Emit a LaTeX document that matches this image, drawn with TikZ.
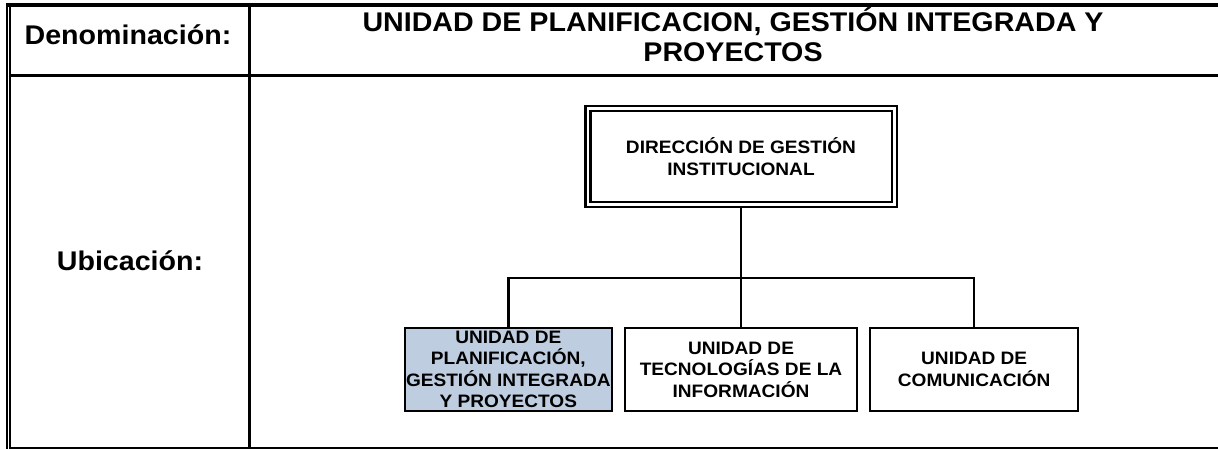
\documentclass[tikz,border=0pt]{standalone}
\usepackage{fontspec}
\setmainfont{Liberation Sans}[FakeStretch=1.06]
\usepackage{tikz}
\usetikzlibrary{calc}
\usetikzlibrary{positioning}
\definecolor{PlanBlue}{RGB}{191,205,224}
\newcommand{\headFont}{\fontsize{27}{30}\selectfont\bfseries}
\newcommand{\orgFont}{\fontsize{18}{21.5}\selectfont\bfseries}
\tikzset{
	rule/.style={line width=2.5pt},
	link/.style={line width=2.5pt},
	unitBox/.style={draw, line width=2.2pt, inner sep=0pt, outer sep=0pt,
		minimum height=83.2pt, align=center, font=\orgFont},
	dirBox/.style={draw, double, double distance=2.8pt, line width=2.2pt,
		inner sep=0pt, outer sep=3.6pt, minimum width=306.2pt,
		minimum height=95.4pt, align=center, font=\orgFont},
}

\begin{document}
\begin{tikzpicture}[x=1pt, y=-1pt]
	\useasboundingbox (0,0) rectangle (1218,449);
	
		% table frame
		\draw [line width=4pt] (6,5.3) -- (1218,5.3);
		\draw [line width=2pt] (7,3.3) -- (7,449);
		\draw [line width=2pt] (10.3,3.3) -- (10.3,449);
		\draw [rule] (10,75.3) -- (1218,75.3);
		\draw [rule] (249.5,5) -- (249.5,448);
		\draw [line width=2pt] (10,448.3) -- (1218,448.3);
		
		\node [anchor=base, font=\headFont] (den) at (128,45) {Denominación:};
		\node [anchor=base, font=\headFont] (ubi) at (130,270) {Ubicación:};
		\node [align=center, font=\headFont] (title) at (733,34.6)
			{UNIDAD DE PLANIFICACION, GESTIÓN INTEGRADA Y\\PROYECTOS};
		
		% organigrama
		\node [dirBox] (dir) at (741,156.5) {DIRECCIÓN DE GESTIÓN\\INSTITUCIONAL};
		\node [unitBox, fill=PlanBlue, minimum width=206.7pt] (uplan) at (508.3,369.4)
			{UNIDAD DE\\PLANIFICACIÓN,\\GESTIÓN INTEGRADA\\Y PROYECTOS};
		\node [unitBox, minimum width=232pt] (utic) at (741,369.4)
			{UNIDAD DE\\TECNOLOGÍAS DE LA\\INFORMACIÓN};
		\node [unitBox, minimum width=207.7pt] (ucom) at (974.2,369.4)
			{UNIDAD DE\\COMUNICACIÓN};
		
		\coordinate (bus) at (741,278);
		\draw [link] (dir.south) -- (utic.north);
		\draw [link] (uplan.north) |- (bus) -| (ucom.north);
	\end{tikzpicture}
\end{document}
